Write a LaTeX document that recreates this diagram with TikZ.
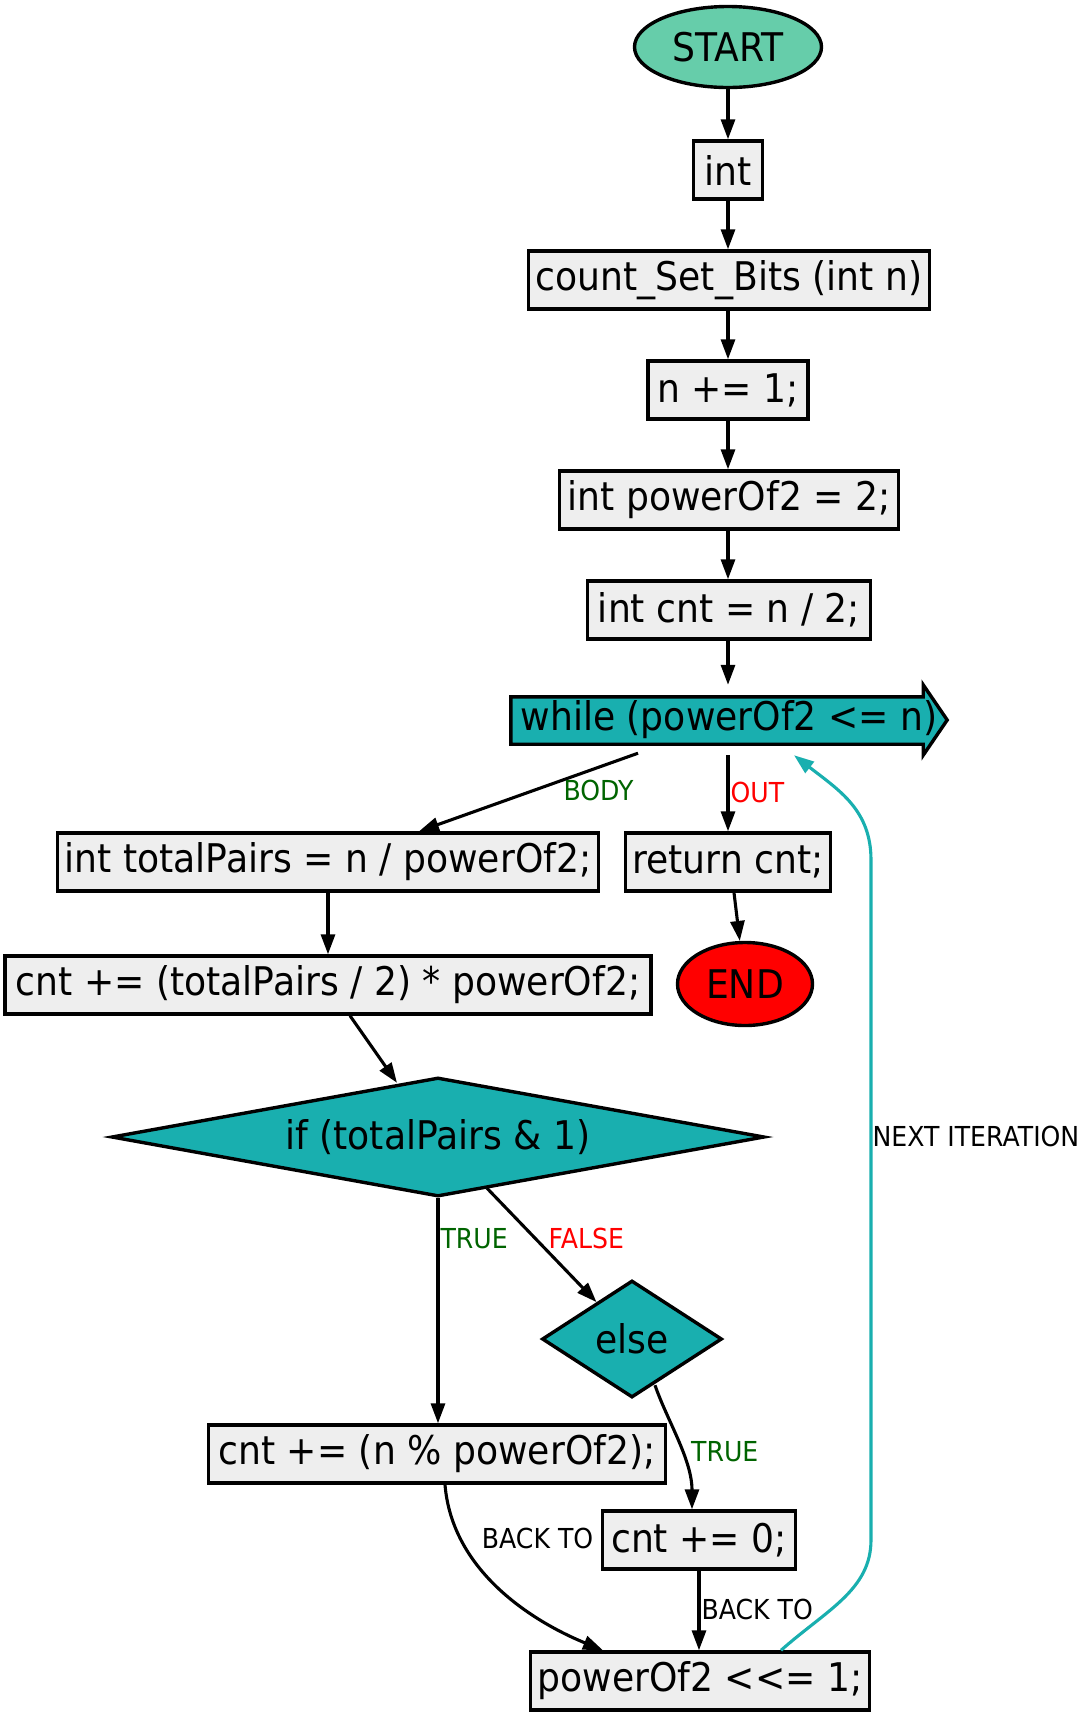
\documentclass[tikz,border=0pt]{standalone}
\usepackage{fontspec}
\setmainfont{DejaVu Sans}[FakeStretch=0.915]
\usetikzlibrary{shapes.geometric, arrows.meta, calc, backgrounds}
\definecolor{boxgray}{HTML}{EEEEEE}
\definecolor{tealc}{HTML}{19AFAF}
\definecolor{startg}{HTML}{66CDAA}
\definecolor{dgreen}{HTML}{006400}
\begin{document}
\begin{tikzpicture}[x=1pt, y=-1pt,
  bigtext/.style={font=\fontsize{39.5}{45}\selectfont},
  box/.style={draw, fill=boxgray, line width=3.4pt, minimum height=58pt, inner sep=0pt, bigtext},
  ell/.style={ellipse, draw, line width=3.4pt, inner sep=0pt, bigtext},
  dia/.style={diamond, draw, fill=tealc, line width=3.4pt, inner sep=0pt, bigtext},
  whl/.style={rectangle, inner sep=0pt, minimum width=436pt, minimum height=70pt, bigtext},
  edge/.style={line width=3.1pt, -{Triangle[length=20pt,width=14pt]}},
  nextedge/.style={line width=3.1pt, draw=tealc, -{Triangle[length=20pt,width=14pt]}, tealc},
  lbl/.style={font=\fontsize{27.5}{31}\selectfont, inner sep=0pt}]
\useasboundingbox (0,0) rectangle (1083,1717);

\node[ell, fill=startg, minimum width=187pt, minimum height=81pt] (start) at (728,47) {START};
\node[box, minimum width=69pt] (int) at (728,170) {int};
\node[box, minimum width=401pt] (csb) at (729,280) {count\_Set\_Bits (int n)};
\node[box, minimum width=160pt] (n1) at (728,390) {n += 1;};
\node[box, minimum width=339pt] (p2) at (729,500) {int powerOf2 = 2;};
\node[box, minimum width=283pt] (c0) at (729,610) {int cnt = n / 2;};
\node[whl] (while) at (729,720) {while (powerOf2 <= n)};
\begin{scope}[on background layer]
\draw[line width=3.4pt, fill=tealc] ($(while.north west)+(0,12)$) -- ($(while.north east)+(-24,12)$) -- ($(while.north east)+(-24,0)$) -- (while.east) -- ($(while.south east)+(-24,0)$) -- ($(while.south east)+(-24,-11)$) -- ($(while.south west)+(0,-11)$) -- cycle;
\end{scope}
\node[box, minimum width=541pt] (tp) at (328,862) {int totalPairs = n / powerOf2;};
\node[box, minimum width=205pt] (ret) at (728,862) {return cnt;};
\node[ell, fill=red, minimum width=135pt, minimum height=83pt] (endn) at (745,984) {END};
\node[box, minimum width=646pt] (cnt2) at (328,985) {cnt += (totalPairs / 2) * powerOf2;};
\node[dia, minimum width=653pt, minimum height=119pt, aspect=5.4] (if) at (438,1137) {if (totalPairs \& 1)};
\node[dia, minimum width=180pt, minimum height=117pt, aspect=1.5] (else) at (632,1339) {else};
\node[box, minimum width=457pt] (cnt3) at (437,1454) {cnt += (n \% powerOf2);};
\node[box, minimum width=193pt] (cnt0) at (699,1540) {cnt += 0;};
\node[box, minimum width=339pt] (pw) at (700,1681) {powerOf2 <\kern0pt<= 1;};

\draw[edge] (start.south) -- (start.south |- int.north);
\draw[edge] (int.south) -- (int.south |- csb.north);
\draw[edge] (int.south |- csb.south) -- (int.south |- n1.north);
\draw[edge] (int.south |- n1.south) -- (int.south |- p2.north);
\draw[edge] (int.south |- p2.south) -- (int.south |- c0.north);
\draw[edge] (int.south |- c0.south) -- (int.south |- while.north);

\draw[edge] ($(while.south)+(-91,-2)$) -- ($(tp.north)+(91,0)$) node[lbl, text=dgreen, pos=0.18, yshift=-23pt] {BODY};
\draw[edge] (ret.north |- while.south) -- (ret.north) node[lbl, text=red, pos=0.49, anchor=west, xshift=1pt] {OUT};
\draw[edge] ($(ret.south)+(6,0)$) -- (endn);
\draw[edge] (tp.south) -- (tp.south |- cnt2.north);
\draw[edge] ($(cnt2.south)+(22,0)$) -- ($(if.north)+(-41,7)$);
\draw[edge] (if.south) -- (if.south |- cnt3.north) node[lbl, text=dgreen, pos=0.18, anchor=west, xshift=1pt] {TRUE};
\draw[edge] ($(if.south)+(49,-10)$) -- (else) node[lbl, text=red, pos=0.44, anchor=west, xshift=12pt] {FALSE};
\draw[edge] ($(else.south)+(23,-14)$) .. controls +(12,35) and +(0,-50) .. ($(cnt0.north)+(-7,0)$) node[lbl, text=dgreen, pos=0.58, anchor=west, xshift=8pt] {TRUE};
\draw[edge] ($(cnt3.south)+(8,0)$) .. controls +(7,85) and +(-73,-30) .. ($(pw.north)+(-97,0)$) node[lbl, pos=0.25, anchor=west, xshift=18pt, yshift=4pt] {BACK TO};
\draw[edge] (cnt0.south) -- (cnt0.south |- pw.north) node[lbl, pos=0.49, anchor=west, xshift=1pt] {BACK TO};

\coordinate (nxA) at (871,1540);
\coordinate (nxB) at (871,860);
\draw[nextedge] ($(pw.north)+(81,0)$) .. controls +(45,-40) and +(0,50) .. (nxA) -- (nxB) node[lbl, text=black, pos=0.593, anchor=west] {NEXT ITERATION} .. controls +(0,-50) and +(45,35) .. ($(while.south)+(65,0)$);
\end{tikzpicture}
\end{document}
